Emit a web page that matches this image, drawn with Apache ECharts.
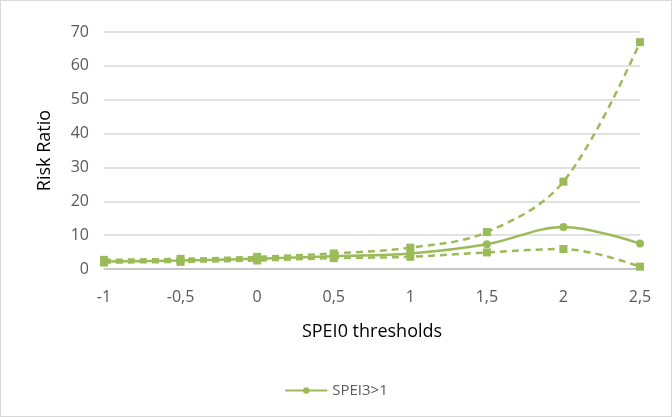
<!DOCTYPE html>
<html><head><meta charset="utf-8">
<script src="https://cdn.jsdelivr.net/npm/echarts@6/dist/echarts.min.js"></script>
<style>html,body{margin:0;padding:0;background:#fff}#c{width:670px;height:415px;border:1px solid #d9d9d9}</style>
</head><body><div id="c"></div>
<script>
const categories = ['-1','-0,5','0','0,5','1','1,5','2','2,5'];
const upperValues = [2.7, 3.0, 3.6, 4.6, 6.3, 10.9, 25.8, 67];
const midValues = [2.2, 2.5, 3.0, 3.8, 4.6, 7.3, 12.4, 7.5];
const lowerValues = [1.9, 2.1, 2.5, 3.2, 3.6, 4.9, 5.9, 0.7];
const color = '#9bbb59';
const chart = echarts.init(document.getElementById('c'));
const font = 'Open Sans';
chart.setOption({
  animation:false,
  grid:{left:103,right:31,top:31,bottom:147},
  legend:{data:['SPEI3>1'],bottom:13,left:'center',itemWidth:42,itemHeight:8,itemGap:6,
    textStyle:{color:'#595959',fontSize:15,fontFamily:font}},
  xAxis:{type:'category',data:categories,boundaryGap:false,
    name:'SPEI0 thresholds',nameLocation:'middle',nameGap:54,
    nameTextStyle:{color:'#000',fontSize:18,fontFamily:font},
    axisLine:{lineStyle:{color:'#bfbfbf',width:1.5}},axisTick:{show:false},
    axisLabel:{color:'#595959',fontSize:16,fontFamily:font,margin:20},
    splitLine:{show:false}},
  yAxis:{type:'value',min:0,max:70,interval:10,
    name:'Risk Ratio',nameLocation:'middle',nameGap:50,
    nameTextStyle:{color:'#000',fontSize:18,fontFamily:font},
    axisLine:{show:false},axisTick:{show:false},
    axisLabel:{color:'#595959',fontSize:16,fontFamily:font,margin:15},
    splitLine:{lineStyle:{color:'#d9d9d9',width:1.5}}},
  series:[
    {name:'upper',type:'line',data:upperValues,smooth:0.35,symbol:'rect',symbolSize:8,
      lineStyle:{color:color,width:2.5,type:[7,5]},itemStyle:{color:color}},
    {name:'lower',type:'line',data:lowerValues,smooth:0.35,symbol:'rect',symbolSize:8,
      lineStyle:{color:color,width:2.5,type:[7,5]},itemStyle:{color:color}},
    {name:'SPEI3>1',type:'line',data:midValues,smooth:0.35,symbol:'circle',symbolSize:8,
      lineStyle:{color:color,width:2.5},itemStyle:{color:color}}
  ]
});
</script></body></html>
